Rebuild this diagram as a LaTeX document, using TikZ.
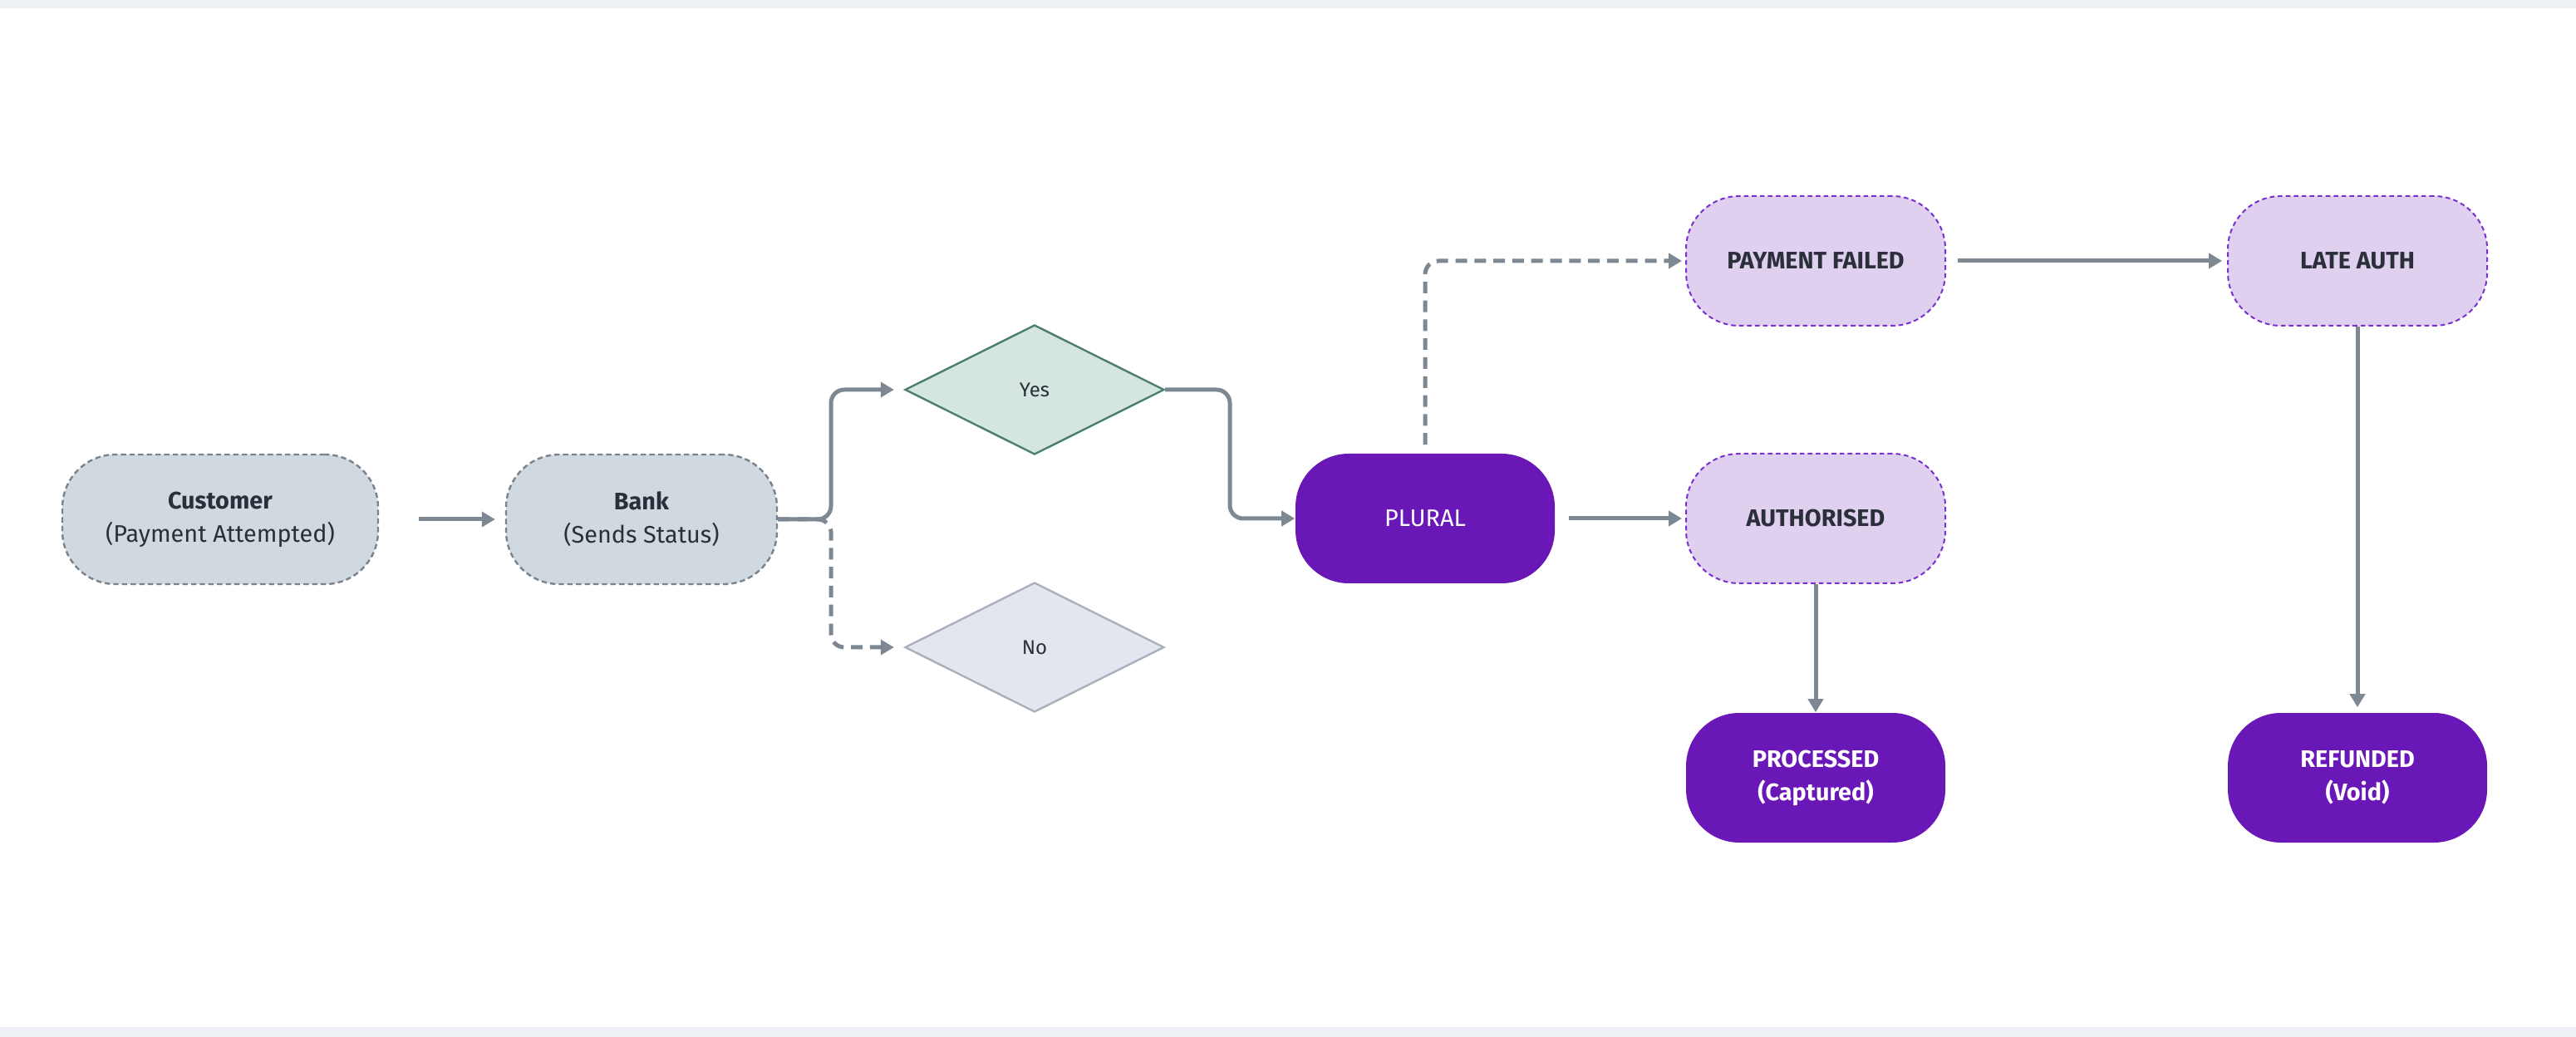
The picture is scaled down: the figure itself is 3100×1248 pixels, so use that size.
\documentclass[tikz,border=0pt]{standalone}
\usepackage{fontspec}
\setmainfont{Fira Sans}
\usetikzlibrary{shapes.geometric,arrows.meta}
\definecolor{band}{HTML}{EDF0F4}
\definecolor{gfill}{HTML}{D1D9E0}
\definecolor{gline}{HTML}{7A828C}
\definecolor{pfill}{HTML}{6A17B8}
\definecolor{lpfill}{HTML}{E0D0F0}
\definecolor{lpline}{HTML}{7A2FD0}
\definecolor{yfill}{HTML}{D5E5E0}
\definecolor{yline}{HTML}{4A7F6E}
\definecolor{nfill}{HTML}{E3E6EE}
\definecolor{nline}{HTML}{AAB0BB}
\definecolor{arr}{HTML}{7D8893}
\definecolor{txt}{HTML}{2A2F3A}
\tikzset{
  base/.style={rectangle,rounded corners=16pt,minimum height=39pt,align=center,inner sep=0pt,font=\fontsize{7.2}{10}\selectfont},
  gnode/.style={base,fill=gfill,draw=gline,line width=0.6pt,dash pattern=on 1.6pt off 1pt,text=txt},
  lpnode/.style={base,fill=lpfill,draw=lpline,line width=0.5pt,dash pattern=on 1.4pt off 1pt,text=txt,minimum width=78pt,font=\fontsize{7.2}{10}\selectfont\bfseries},
  pnode/.style={base,fill=pfill,text=white,minimum width=78pt},
  dia/.style={diamond,aspect=2,minimum width=78pt,minimum height=39pt,inner sep=0pt,line width=0.6pt,text=txt,font=\fontsize{6}{8}\selectfont},
  conn/.style={draw=arr,line width=1.25pt,rounded corners=4pt,-{Triangle[length=4pt,width=4.5pt]}},
  dconn/.style={conn,dash pattern=on 3.5pt off 2.2pt},
}
\begin{document}
\begin{tikzpicture}[x=0.25pt,y=-0.25pt]
\useasboundingbox (0,0) rectangle (3100,1248);
\fill[band] (0,0) rectangle (3100,10);
\fill[band] (0,1236) rectangle (3100,1248);
\node[gnode,minimum width=95pt] (cust) at (265,625) {\textbf{Customer}\\(Payment Attempted)};
\node[gnode,minimum width=81.5pt] (bank) at (772,625) {\textbf{Bank}\\(Sends Status)};
\node[dia,fill=yfill,draw=yline] (yes) at (1245,469) {Yes};
\node[dia,fill=nfill,draw=nline] (no) at (1245,779) {No};
\node[pnode] (plural) at (1715,624) {PLURAL};
\node[lpnode] (pf) at (2185,314) {PAYMENT FAILED};
\node[lpnode] (auth) at (2185,624) {AUTHORISED};
\node[lpnode] (late) at (2837,314) {LATE AUTH};
\node[pnode,font=\fontsize{7.2}{10}\selectfont\bfseries] (proc) at (2185,936) {PROCESSED\\(Captured)};
\node[pnode,font=\fontsize{7.2}{10}\selectfont\bfseries] (ref) at (2837,936) {REFUNDED\\(Void)};
\coordinate (bj) at (1000,625);
\draw[conn] ([xshift=12pt]cust.east) -- ([xshift=-3pt]bank.west);
\draw[conn] (bank.east) -- (bj) |- ([xshift=-3pt]yes.west);
\draw[dconn] (bank.east) -- (bj) |- ([xshift=-3pt]no.west);
\draw[conn] (yes.east) -- (1480,469) |- (plural.west);
\draw[dconn] ([yshift=2.5pt]plural.north) |- ([xshift=-1pt]pf.west);
\draw[conn] ([xshift=4pt]plural.east) -- ([xshift=-1pt]auth.west);
\draw[conn] ([xshift=3.5pt]pf.east) -- ([xshift=-1.5pt]late.west);
\draw[conn] (auth.south) -- (proc.north);
\draw[conn] (late.south) -- ([yshift=1.5pt]ref.north);
\end{tikzpicture}
\end{document}
